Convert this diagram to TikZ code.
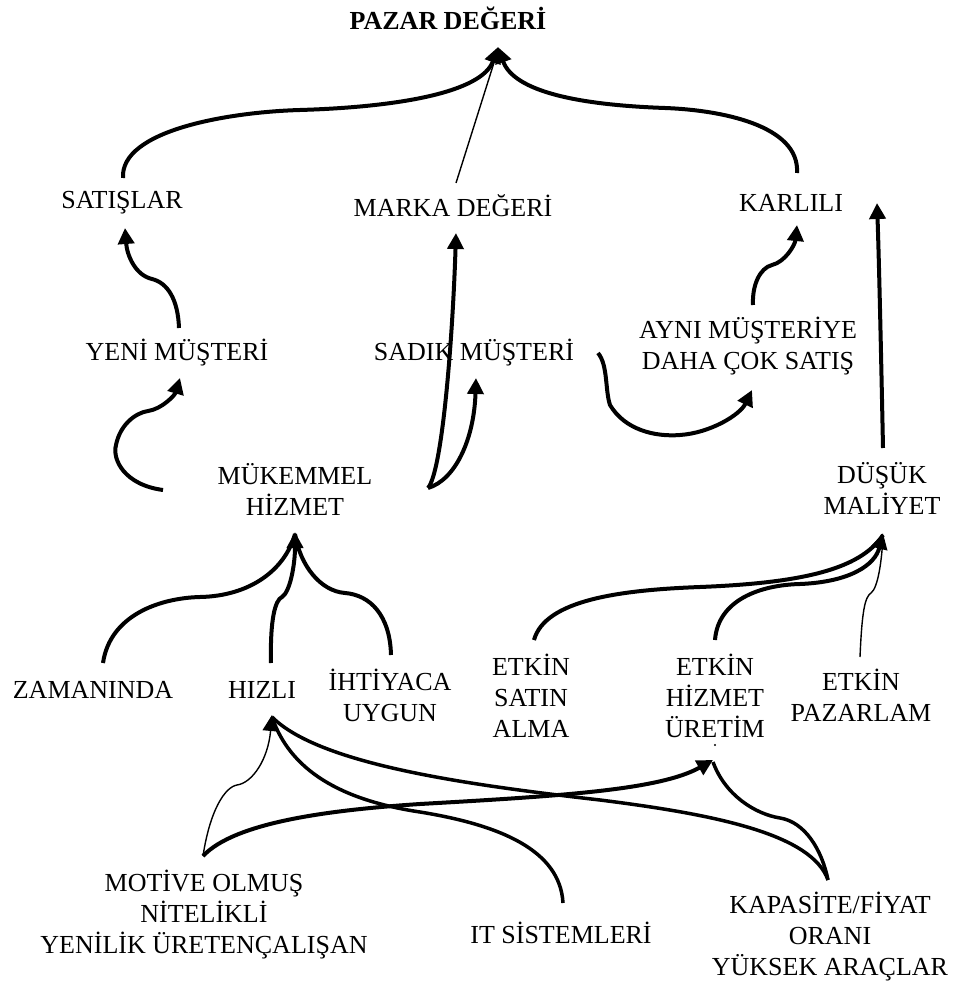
\documentclass[tikz,border=0pt]{standalone}
\usepackage{fontspec}
\setmainfont{Liberation Serif}
\usetikzlibrary{arrows.meta}

\tikzset{
  lbl/.style={font=\fontsize{26}{31}\selectfont, align=center, inner sep=0pt},
  conn/.style={line width=4pt},
  lowconn/.style={line width=3.5pt},
  fineline/.style={line width=1.4pt},
  arrowed/.style={-{Triangle[length=16pt,width=16pt]}},
}

\begin{document}
\begin{tikzpicture}[x=1pt,y=-1pt]
\useasboundingbox (0,0) rectangle (957,987);

% ---- labels ----
\node[lbl, font=\fontsize{26}{31}\selectfont\bfseries] (pazar) at (448,18) {PAZAR DEĞERİ};
\node[lbl] (satislar) at (122,203) {SATIŞLAR};
\node[lbl] (marka)    at (453,206) {MARKA DEĞERİ};
\node[lbl] (karlili)  at (791,203) {KARLILI};
\node[lbl] (yeni)     at (177,353) {YENİ MÜŞTERİ};
\node[lbl] (sadik)    at (474,353) {SADIK MÜŞTERİ};
\node[lbl] (ayni)     at (748,346) {AYNI MÜŞTERİYE\\DAHA ÇOK SATIŞ};
\node[lbl] (mukemmel) at (295,489) {MÜKEMMEL\\HİZMET};
\node[lbl] (dusuk)    at (882,488) {DÜŞÜK\\MALİYET};
\node[lbl] (zaman)    at (93,690)  {ZAMANINDA};
\node[lbl] (hizli)    at (262,690) {HIZLI};
\node[lbl] (ihtiyac)  at (390,695) {İHTİYACA\\UYGUN};
\node[lbl] (satin)    at (531,696) {ETKİN\\SATIN\\ALMA};
\node[lbl] (uretim)   at (715,696) {ETKİN\\HİZMET\\ÜRETİM};
\node[lbl] (pazarlam) at (861,695) {ETKİN\\PAZARLAM};
\node[lbl] (motive)   at (204,915) {MOTİVE OLMUŞ\\NİTELİKLİ\\YENİLİK ÜRETENÇALIŞAN};
\node[lbl] (itsis)    at (561,933) {IT SİSTEMLERİ};
\node[lbl] (kapasite) at (830,937) {KAPASİTE/FİYAT\\ORANI\\YÜKSEK ARAÇLAR};

\fill (715,745) circle (1.2pt);

% ---- top level: into PAZAR DEĞERİ ----
\draw[conn, arrowed] ([shift={(1,-25)}]satislar.center)
  .. controls (120,130) and (230,112) .. (300,110)
  .. controls (400,107) and (482,92) .. ([shift={(50,29)}]pazar.center);
\draw[conn, arrowed] ([shift={(6,-30)}]karlili.center)
  .. controls (800,125) and (720,110) .. (665,108)
  .. controls (580,105) and (514,92) .. ([shift={(50,29)}]pazar.center);
\draw[fineline] ([shift={(3,-23)}]marka.center) -- ([shift={(50,32)}]pazar.center);

% ---- second level ----
\draw[conn, arrowed] ([shift={(2,-25)}]yeni.center)
  .. controls (178,300) and (168,283) .. (152,279)
  .. controls (135,275) and (127,255) .. ([shift={(3,25)}]satislar.center);
\draw[conn, arrowed] ([shift={(-132,1)}]mukemmel.center)
  .. controls (125,485) and (112,460) .. (116,445)
  .. controls (120,425) and (135,413) .. (148,411)
  .. controls (162,409) and (175,395) .. ([shift={(3,25)}]yeni.center);
\draw[conn, arrowed] ([shift={(133,-1)}]mukemmel.center)
  .. controls (443,470) and (453,330) .. ([shift={(3,27)}]marka.center);
\draw[conn, arrowed] ([shift={(133,-1)}]mukemmel.center)
  .. controls (455,480) and (474,440) .. ([shift={(2,25)}]sadik.center);
\draw[conn, arrowed] ([shift={(124,0)}]sadik.center)
  .. controls (608,365) and (605,390) .. (610,405)
  .. controls (625,430) and (655,437) .. (680,435)
  .. controls (710,433) and (740,415) .. ([shift={(4,44)}]ayni.center);
\draw[conn, arrowed] ([shift={(5,-41)}]ayni.center)
  .. controls (752,285) and (760,268) .. (772,265)
  .. controls (785,262) and (795,245) .. ([shift={(6,22)}]karlili.center);
\draw[conn, arrowed] ([shift={(1,-40)}]dusuk.center)
  .. controls (881,350) and (879,260) .. ([shift={(86,0)}]karlili.center);

% ---- into MÜKEMMEL HİZMET ----
\draw[conn] ([shift={(10,-27)}]zaman.center)
  .. controls (110,615) and (160,598) .. (200,597)
  .. controls (250,596) and (285,570) .. ([shift={(0,45)}]mukemmel.center);
\draw[conn] ([shift={(1,-40)}]ihtiyac.center)
  .. controls (390,615) and (370,595) .. (345,593)
  .. controls (320,591) and (300,565) .. ([shift={(0,45)}]mukemmel.center);
\draw[conn, arrowed] ([shift={(9,-27)}]hizli.center)
  .. controls (270,620) and (275,600) .. (282,597)
  .. controls (290,592) and (295,565) .. ([shift={(0,43)}]mukemmel.center);

% ---- into DÜŞÜK MALİYET ----
\draw[conn] ([shift={(3,-56)}]satin.center)
  .. controls (545,600) and (620,590) .. (700,587)
  .. controls (800,583) and (860,570) .. ([shift={(1,47)}]dusuk.center);
\draw[conn, arrowed] ([shift={(0,-56)}]uretim.center)
  .. controls (718,600) and (760,585) .. (800,584)
  .. controls (850,582) and (875,565) .. ([shift={(1,45)}]dusuk.center);
\draw[fineline] ([shift={(-1,-38)}]pazarlam.center)
  .. controls (862,610) and (865,597) .. (871,593)
  .. controls (878,588) and (882,560) .. ([shift={(1,47)}]dusuk.center);

% ---- bottom level ----
\draw[fineline, arrowed] ([shift={(-1,-59)}]motive.center)
  .. controls (210,810) and (225,787) .. (237,785)
  .. controls (252,783) and (268,760) .. ([shift={(10,25)}]hizli.center);
\draw[conn, arrowed] ([shift={(-1,-59)}]motive.center)
  .. controls (235,822) and (330,810) .. (420,804)
  .. controls (560,796) and (660,790) .. ([shift={(-2,64)}]uretim.center);
\draw[lowconn] ([shift={(2,-30)}]itsis.center)
  .. controls (560,850) and (500,825) .. (420,812)
  .. controls (340,800) and (290,770) .. ([shift={(10,27)}]hizli.center);
\draw[lowconn] ([shift={(-2,-57)}]kapasite.center)
  .. controls (812,835) and (720,815) .. (600,800)
  .. controls (470,785) and (320,765) .. ([shift={(10,27)}]hizli.center);
\draw[lowconn] ([shift={(-2,-57)}]kapasite.center)
  .. controls (822,850) and (805,822) .. (780,818)
  .. controls (755,814) and (725,795) .. ([shift={(-2,66)}]uretim.center);
\end{tikzpicture}
\end{document}
